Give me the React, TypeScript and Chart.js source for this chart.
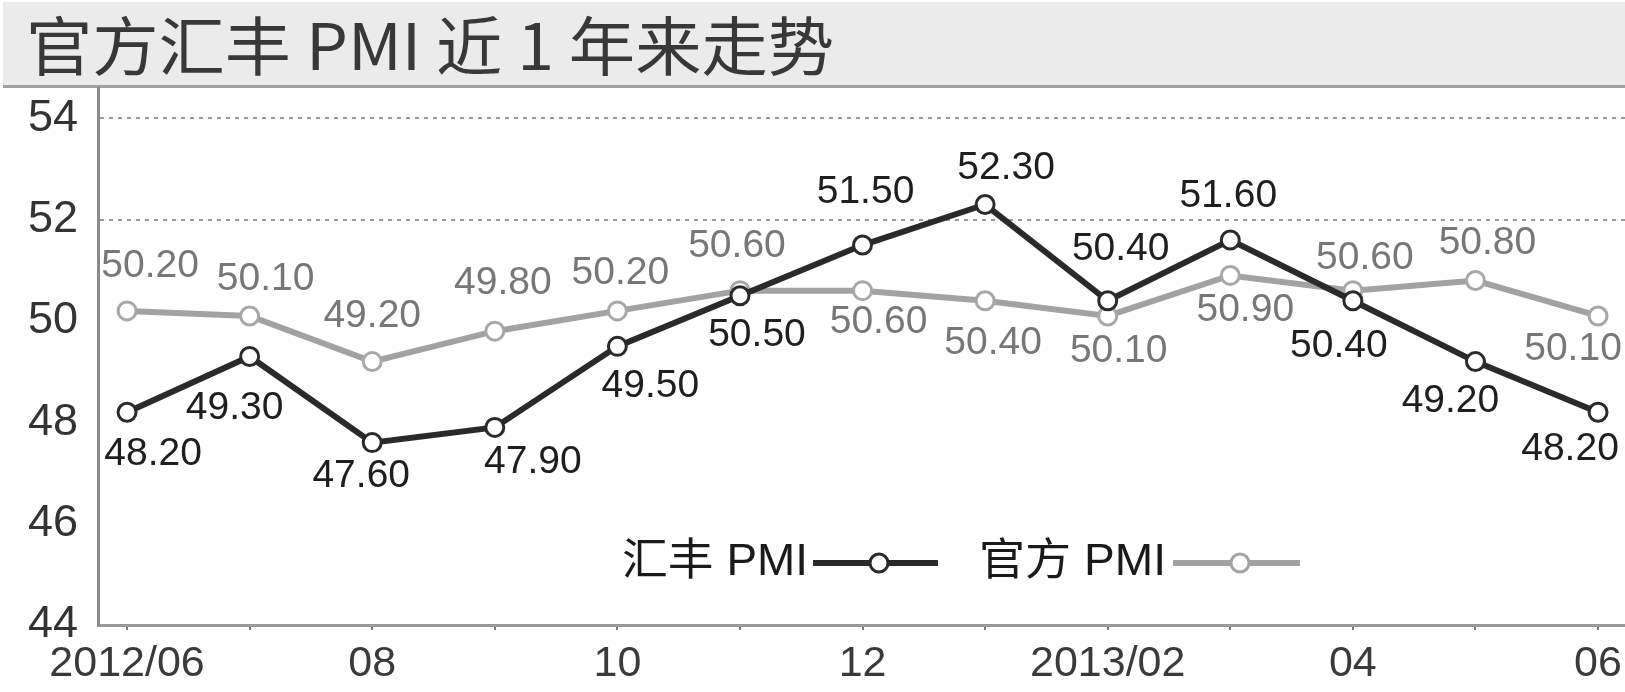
import React, { useEffect, useRef } from "react";
import { Chart, registerables } from "chart.js";

Chart.register(...registerables);

const titleText = "官方汇丰 PMI 近 1 年来走势";
const categories = ["2012/06", "2012/07", "2012/08", "2012/09", "2012/10", "2012/11", "2012/12", "2013/01", "2013/02", "2013/03", "2013/04", "2013/05", "2013/06"];
const xTickLabels = ["2012/06", "", "08", "", "10", "", "12", "", "2013/02", "", "04", "", "06"];
const yTickValues = [44, 46, 48, 50, 52, 54];
const hsbcName = "汇丰 PMI";
const officialName = "官方 PMI";
const hsbcPMI = [48.2, 49.3, 47.6, 47.9, 49.5, 50.5, 51.5, 52.3, 50.4, 51.6, 50.4, 49.2, 48.2];
const officialPMI = [50.2, 50.1, 49.2, 49.8, 50.2, 50.6, 50.6, 50.4, 50.1, 50.9, 50.6, 50.8, 50.1];

// label placement offsets (style only)
const hsbcLabelOffsets = [[26, 42], [-15, 52], [-11, 34], [38, 35], [33, 40], [17, 40], [3, -53], [21, -36], [13, -52], [-2, -44], [-14, 45], [-25, 40], [-28, 37]];
const officialLabelOffsets = [[23, -45], [16, -37], [0, -45], [8, -48], [3, -38], [-3, -44], [16, 32], [8, 42], [11, 35], [15, 35], [12, -32], [12, -37], [-25, 33]];

const LATIN = "'Liberation Sans', Arial, 'Noto Sans CJK SC', sans-serif";
const HSBC_COLOR = "#2a2a2a";
const OFFICIAL_COLOR = "#a2a2a2";

function drawFitText(ctx: CanvasRenderingContext2D, text: string, x: number, y: number, width: number) {
  const w = ctx.measureText(text).width;
  ctx.save();
  ctx.translate(x, y);
  ctx.scale(width / w, 1);
  ctx.fillText(text, 0, 0);
  ctx.restore();
}

const decorPlugin = {
  id: "decor",
  beforeDraw(chart: any) {
    const ctx = chart.ctx as CanvasRenderingContext2D;
    ctx.save();
    ctx.fillStyle = "#ffffff";
    ctx.fillRect(0, 0, chart.width, chart.height);
    ctx.fillStyle = "#ebebeb";
    ctx.fillRect(3, 2, chart.width - 3, 84);
    ctx.fillStyle = "#a0a0a0";
    ctx.fillRect(3, 85, chart.width - 3, 3);
    ctx.fillStyle = "#383838";
    ctx.font = "64px 'Noto Sans CJK SC', 'Liberation Sans', sans-serif";
    ctx.textAlign = "left";
    ctx.textBaseline = "alphabetic";
    drawFitText(ctx, titleText, 26, 70, 808);
    ctx.restore();
  },
  afterDatasetsDraw(chart: any) {
    const ctx = chart.ctx as CanvasRenderingContext2D;
    const sets = [
      { idx: 0, values: hsbcPMI, offs: hsbcLabelOffsets, color: "#1e1e1e" },
      { idx: 1, values: officialPMI, offs: officialLabelOffsets, color: "#777777" },
    ];
    ctx.save();
    ctx.font = "39px " + LATIN;
    ctx.textAlign = "center";
    ctx.textBaseline = "middle";
    sets.forEach((s) => {
      const meta = chart.getDatasetMeta(s.idx);
      meta.data.forEach((pt: any, i: number) => {
        ctx.fillStyle = s.color;
        ctx.fillText(s.values[i].toFixed(2), pt.x + s.offs[i][0], pt.y + s.offs[i][1]);
      });
    });
    // legend
    const ly = 563;
    const items = [
      { name: hsbcName, tx: 622, tw: 186, l0: 813, l1: 938, cx: 879, color: HSBC_COLOR },
      { name: officialName, tx: 979, tw: 187, l0: 1173, l1: 1300, cx: 1240, color: OFFICIAL_COLOR },
    ];
    items.forEach((it) => {
      ctx.fillStyle = "#1a1a1a";
      ctx.font = "44px " + LATIN;
      ctx.textAlign = "left";
      ctx.textBaseline = "middle";
      drawFitText(ctx, it.name, it.tx, ly, it.tw);
      ctx.strokeStyle = it.color;
      ctx.lineWidth = 6;
      ctx.beginPath();
      ctx.moveTo(it.l0, ly);
      ctx.lineTo(it.l1, ly);
      ctx.stroke();
      ctx.fillStyle = "#ffffff";
      ctx.lineWidth = 3;
      ctx.beginPath();
      ctx.arc(it.cx, ly, 9, 0, Math.PI * 2);
      ctx.fill();
      ctx.stroke();
    });
    ctx.restore();
  },
};

export default function App() {
  const canvasRef = useRef<HTMLCanvasElement | null>(null);

  useEffect(() => {
    if (!canvasRef.current) return;
    Chart.defaults.font.family = LATIN;
    const chart = new Chart(canvasRef.current, {
      type: "line",
      data: {
        labels: categories,
        datasets: [
          {
            label: hsbcName,
            data: hsbcPMI.map((v, i) => ({ x: i, y: v })),
            borderColor: HSBC_COLOR,
            borderWidth: 6,
            pointRadius: 9,
            pointBorderWidth: 3,
            pointBackgroundColor: "#ffffff",
            pointBorderColor: HSBC_COLOR,
            tension: 0,
          },
          {
            label: officialName,
            data: officialPMI.map((v, i) => ({ x: i, y: v })),
            borderColor: OFFICIAL_COLOR,
            borderWidth: 6,
            pointRadius: 9,
            pointBorderWidth: 3,
            pointBackgroundColor: "#ffffff",
            pointBorderColor: "#a8a8a8",
            tension: 0,
          },
        ],
      },
      options: {
        animation: false,
        responsive: true,
        maintainAspectRatio: false,
        devicePixelRatio: 1,
        layout: { autoPadding: false, padding: { top: 88, left: 0, right: 0, bottom: 0 } },
        plugins: { legend: { display: false }, tooltip: { enabled: false }, title: { display: false } },
        scales: {
          x: {
            type: "linear",
            min: -0.237,
            max: 12.22,
            afterBuildTicks: (axis: any) => {
              axis.ticks = categories.map((_, i) => ({ value: i }));
            },
            afterFit: (axis: any) => {
              axis.height = 67;
              axis.paddingLeft = 0;
              axis.paddingRight = 0;
            },
            ticks: {
              autoSkip: false,
              maxRotation: 0,
              minRotation: 0,
              padding: 8,
              color: "#3a3a3a",
              font: { size: 43 },
              callback: (v: any) => xTickLabels[Math.round(Number(v))] ?? "",
            },
            grid: { drawOnChartArea: false, drawTicks: true, tickLength: 5, color: "#777777", lineWidth: 2 },
            border: { display: true, color: "#9a9a9a", width: 3 },
          },
          y: {
            min: 44,
            max: 54.6,
            afterBuildTicks: (axis: any) => {
              axis.ticks = yTickValues.map((v) => ({ value: v }));
            },
            afterFit: (axis: any) => {
              axis.width = 98;
              axis.paddingTop = 0;
              axis.paddingBottom = 0;
            },
            ticks: { color: "#333333", font: { size: 45 }, padding: 20, callback: (v: any) => String(v) },
            grid: {
              drawTicks: false,
              lineWidth: 2,
              color: (c: any) => (c.tick && (c.tick.value === 52 || c.tick.value === 54) ? "#999999" : "rgba(0,0,0,0)"),
            },
            border: { display: true, color: "#8a8a8a", width: 3, dash: [4, 5] },
          },
        },
      },
      plugins: [decorPlugin],
    });
    return () => chart.destroy();
  }, []);

  return (
    <div style={{ position: "fixed", left: 0, top: 0, width: 1625, height: 692, background: "#fff" }}>
      <canvas ref={canvasRef} />
    </div>
  );
}
